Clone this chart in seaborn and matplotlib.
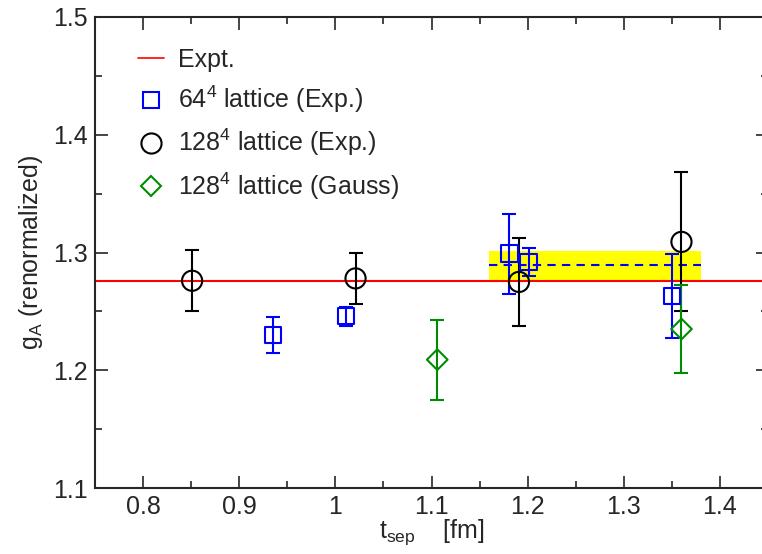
"""g_A vs t_sep — lattice results compared with experiment."""

import matplotlib

matplotlib.use("Agg")
import matplotlib.pyplot as plt
import numpy as np
import pandas as pd
import seaborn as sns
from matplotlib.lines import Line2D
from matplotlib.ticker import MultipleLocator

# data
expt_ga = 1.2754

t_64 = [0.935, 1.011, 1.181, 1.201, 1.350]
ga_64 = [1.230, 1.246, 1.299, 1.292, 1.263]
err_64 = [0.015, 0.008, 0.034, 0.012, 0.036]

t_128 = [0.851, 1.021, 1.191, 1.360]
ga_128 = [1.276, 1.278, 1.275, 1.309]
err_128 = [0.026, 0.022, 0.037, 0.059]

t_gauss = [1.106, 1.360]
ga_gauss = [1.209, 1.235]
err_gauss = [0.034, 0.037]

fit_t = [1.16, 1.38]
fit_val = 1.289
fit_err = 0.0125

labels = ["Expt.", "64$^4$ lattice (Exp.)", "128$^4$ lattice (Exp.)", "128$^4$ lattice (Gauss)"]

sns.set_style("ticks")
plt.rcParams.update(
    {
        "font.family": ["Liberation Sans", "DejaVu Sans"],
        "mathtext.fontset": "custom",
        "mathtext.rm": "Liberation Sans",
        "mathtext.default": "regular",
        "font.size": 18,
        "axes.linewidth": 1.5,
    }
)

BLUE, GREEN, RED = "#0000ff", "#008c00", "#ff0000"

series = [
    (t_64, ga_64, err_64, BLUE, "s", 12),
    (t_128, ga_128, err_128, "black", "o", 14.5),
    (t_gauss, ga_gauss, err_gauss, GREEN, "D", 10.5),
]

fig = plt.figure(figsize=(7.62, 5.54), dpi=100)
ax = fig.add_axes([95 / 762, 66 / 554, 673 / 762, 471 / 554])

# fit band + central value
ax.fill_between(fit_t, fit_val - fit_err, fit_val + fit_err, color="#ffff00", lw=0, zorder=1)
ax.plot(fit_t, [fit_val, fit_val], color=BLUE, ls=(0, (4, 3)), lw=1.5, zorder=2)
ax.axhline(expt_ga, color=RED, lw=1.5, zorder=2)

for t, g, e, col, mk, ms in series:
    ax.errorbar(t, g, yerr=e, fmt="none", ecolor=col, elinewidth=1.5, capsize=4.8, capthick=1.5, zorder=3)
    df = pd.DataFrame({"t": t, "g": g})
    sns.scatterplot(
        data=df, x="t", y="g", ax=ax, marker=mk, s=ms**2,
        facecolor="none", edgecolor=col, linewidth=1.5, zorder=4,
    )

ax.set_xlim(0.75, 1.45)
ax.set_ylim(1.1, 1.5)
ax.xaxis.set_minor_locator(MultipleLocator(0.05))
ax.yaxis.set_minor_locator(MultipleLocator(0.05))
ax.set_xticks(np.arange(0.8, 1.41, 0.1))
ax.set_xticklabels(["0.8", "0.9", "1", "1.1", "1.2", "1.3", "1.4"])
ax.set_yticks(np.arange(1.1, 1.51, 0.1))
ax.set_yticklabels(["1.1", "1.2", "1.3", "1.4", "1.5"])
ax.tick_params(which="both", direction="in", top=True, right=True, width=1.2, labelsize=18)
ax.tick_params(which="major", length=9, pad=5)
ax.tick_params(which="minor", length=5)

ax.set_xlabel("t$_{sep}$    [fm]", fontsize=18, labelpad=-1)
ax.set_ylabel("g$_{A}$ (renormalized)", fontsize=18, labelpad=6)

handles = [Line2D([], [], color=RED, lw=1.2)]
for t, g, e, col, mk, ms in series:
    handles.append(Line2D([], [], ls="none", marker=mk, ms=ms, mfc="none", mec=col, mew=1.5))
ax.legend(
    handles, labels, loc="upper left", bbox_to_anchor=(0.038, 0.971), frameon=False,
    handlelength=1.05, handletextpad=0.55, labelspacing=0.47, borderpad=0.2, fontsize=18,
)

fig.savefig("out.png", dpi=100, facecolor="white")
